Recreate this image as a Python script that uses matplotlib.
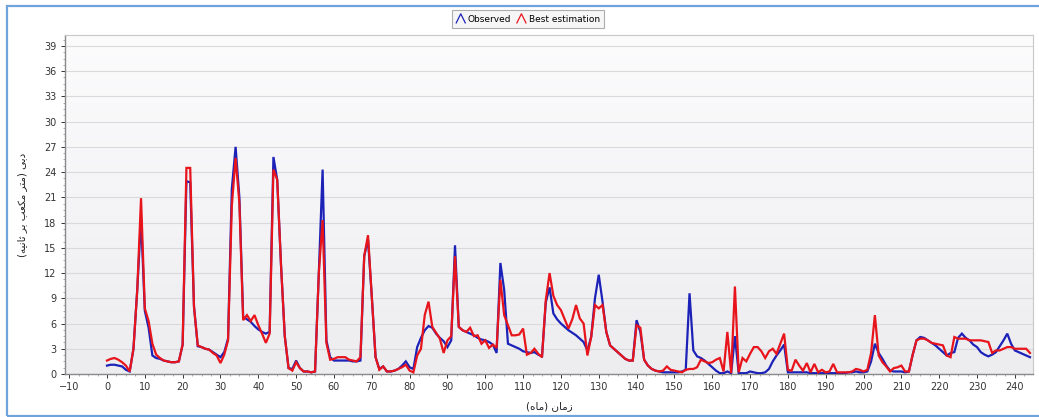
import numpy as np
import matplotlib
matplotlib.use("Agg")
import matplotlib.pyplot as plt
from matplotlib.lines import Line2D
from matplotlib.legend_handler import HandlerBase
from matplotlib.patches import Rectangle
from matplotlib.colors import LinearSegmentedColormap

# ---- data (monthly values, month 0 .. 244) ----
observed = [
    1.0, 1.1, 1.1, 1.0, 0.9, 0.5, 0.3, 3.0, 10.0, 18.5,
    7.5, 5.5, 2.2, 1.9, 1.8, 1.6, 1.5, 1.4, 1.4, 1.5,
    3.5, 22.9, 22.8, 8.0, 3.3, 3.2, 3.0, 2.9, 2.6, 2.3,
    2.0, 2.6, 4.2, 22.0, 27.0, 21.0, 6.8, 6.5, 6.2, 5.7,
    5.3, 5.0, 4.8, 5.0, 25.8, 23.1, 13.0, 4.5, 0.7, 0.6,
    1.6, 0.7, 0.3, 0.3, 0.2, 0.3, 12.0, 24.3, 4.0, 2.0,
    1.6, 1.6, 1.6, 1.6, 1.6, 1.5, 1.5, 1.6, 14.0, 16.0,
    9.2, 2.0, 0.6, 0.9, 0.3, 0.3, 0.4, 0.6, 1.0, 1.5,
    0.8, 0.6, 3.2, 4.3, 5.2, 5.7, 5.5, 4.8, 4.3, 3.9,
    3.2, 4.0, 15.3, 5.6, 5.2, 5.0, 4.8, 4.6, 4.3, 4.1,
    4.0, 3.8, 3.5, 2.5, 13.2, 10.0, 3.6, 3.4, 3.2, 3.0,
    2.7, 2.6, 2.5, 2.6, 2.3, 2.1, 8.5, 10.3, 7.2, 6.5,
    6.0, 5.6, 5.2, 4.9, 4.6, 4.2, 3.8, 2.8, 4.4, 9.0,
    11.8, 8.6, 5.0, 3.4, 3.0, 2.6, 2.2, 1.8, 1.6, 1.6,
    6.4, 5.0, 1.7, 1.0, 0.6, 0.4, 0.3, 0.2, 0.2, 0.2,
    0.2, 0.2, 0.3, 0.5, 9.6, 2.8, 2.1, 1.9, 1.6, 1.2,
    0.8, 0.4, 0.1, 0.1, 0.3, 0.1, 4.5, 0.1, 0.1, 0.1,
    0.3, 0.2, 0.1, 0.1, 0.2, 0.6, 1.5, 2.2, 2.8, 3.5,
    0.2, 0.2, 0.2, 0.2, 0.2, 0.2, 0.1, 0.1, 0.1, 0.1,
    0.1, 0.1, 0.1, 0.1, 0.1, 0.1, 0.2, 0.2, 0.3, 0.2,
    0.2, 0.3, 1.5, 3.6, 2.5, 1.8, 1.0, 0.4, 0.3, 0.3,
    0.3, 0.2, 0.3, 2.3, 4.0, 4.4, 4.3, 4.0, 3.7, 3.4,
    3.0, 2.6, 2.2, 2.5, 2.6, 4.3, 4.8, 4.3, 4.0, 3.5,
    3.2, 2.6, 2.3, 2.1, 2.3, 2.6, 3.3, 4.0, 4.8, 3.6,
    2.8, 2.6, 2.4, 2.2, 2.0,
]
best_estimation = [
    1.6, 1.8, 1.9, 1.7, 1.4, 1.0, 0.3, 3.0, 10.0, 20.9,
    7.8, 6.3, 3.6, 2.3, 1.9, 1.6, 1.5, 1.4, 1.4, 1.5,
    3.5, 24.5, 24.5, 8.0, 3.4, 3.2, 3.0, 2.9, 2.5, 2.2,
    1.3, 2.3, 4.0, 20.0, 25.7, 20.3, 6.4, 7.0, 6.3, 7.0,
    5.8, 4.8, 3.7, 4.8, 24.3, 23.1, 13.0, 4.5, 0.7, 0.4,
    1.4, 0.7, 0.3, 0.3, 0.2, 0.3, 12.0, 18.3, 3.7, 1.7,
    1.8, 2.0, 2.0, 2.0, 1.7, 1.6, 1.5, 2.0, 14.0, 16.5,
    9.2, 2.0, 0.5, 0.9, 0.3, 0.3, 0.4, 0.6, 0.8, 1.1,
    0.4, 0.2, 2.2, 3.0, 7.0, 8.6, 5.6, 4.9, 4.2, 2.5,
    4.0, 4.5, 14.0, 5.6, 5.2, 5.0, 5.5, 4.5, 4.6, 3.6,
    4.0, 3.1, 3.5, 3.1, 11.2, 7.0, 5.8, 4.6, 4.6, 4.7,
    5.4, 2.3, 2.5, 3.0, 2.4, 2.0, 8.8, 12.0, 9.3, 8.2,
    7.6, 6.5, 5.4, 6.5, 8.2, 6.6, 6.0, 2.2, 4.4, 8.2,
    7.8, 8.2, 5.0, 3.4, 3.0, 2.6, 2.2, 1.8, 1.6, 1.6,
    5.8, 5.5, 1.7, 1.0, 0.6, 0.4, 0.3, 0.4, 0.9, 0.5,
    0.4, 0.3, 0.2, 0.5, 0.6, 0.6, 0.8, 1.7, 1.5, 1.3,
    1.4, 1.7, 1.9, 0.3, 5.0, 0.1, 10.4, 0.2, 1.9, 1.5,
    2.4, 3.2, 3.2, 2.7, 1.9, 2.7, 3.0, 2.4, 3.6, 4.8,
    0.5, 0.4, 1.7, 1.0, 0.4, 1.3, 0.2, 1.2, 0.2, 0.5,
    0.2, 0.3, 1.2, 0.2, 0.2, 0.2, 0.2, 0.3, 0.6, 0.5,
    0.3, 0.5, 2.5, 7.0, 2.2, 1.4, 0.9, 0.3, 0.7, 0.8,
    1.0, 0.3, 0.3, 2.3, 4.0, 4.2, 4.2, 4.0, 3.7, 3.6,
    3.5, 3.4, 2.2, 2.0, 4.4, 4.2, 4.2, 4.2, 4.0, 4.0,
    4.0, 4.0, 3.9, 3.8, 2.5, 2.8, 2.8, 3.0, 3.2, 3.2,
    3.0, 3.0, 3.0, 3.0, 2.5,
]
months = list(range(len(observed)))
x_ticks = list(range(-10, 241, 10))
y_ticks = list(range(0, 40, 3))
series_names = ["Observed", "Best estimation"]

# Persian labels (pre-shaped presentation forms, logical order)
ylabel_logical = "\uFEA9\uFE91\uFEF0 (\uFEE3\uFE98\uFEAE \uFEE3\uFEDC\uFECC\uFE90 \uFE91\uFEAE \uFE9B\uFE8E\uFEE7\uFEF4\uFEEA)"
xlabel_logical = "\uFEAF\uFEE3\uFE8E\uFEE5 (\uFEE3\uFE8E\uFEE9)"


def visual(s):
    return s[::-1].translate(str.maketrans("()", ")("))


BLUE = "#1c22b8"
RED = "#e8141c"

fig = plt.figure(figsize=(10.39, 4.17), dpi=100)
fig.patch.set_facecolor("white")
ax = fig.add_axes([65 / 1039, 1 - 374 / 417, (1033 - 65) / 1039, (374 - 35) / 417])

# background gradient of plot area
cmap = LinearSegmentedColormap.from_list("bg", ["#ededf0", "#fcfcfd"])
grad = np.linspace(0, 1, 256).reshape(-1, 1)
ax.imshow(grad, cmap=cmap, aspect="auto", extent=[0, 1, 0, 1],
          transform=ax.transAxes, origin="lower", zorder=0)

ax.plot(months, observed, color=BLUE, lw=1.6, zorder=3, solid_joinstyle="miter")
ax.plot(months, best_estimation, color=RED, lw=1.6, zorder=4, solid_joinstyle="miter")

ax.set_xlim(-11.1, 244.8)
ax.set_ylim(0, 40.3)
ax.set_xticks(x_ticks)
ax.set_yticks(y_ticks)
ax.set_xticks(np.arange(-10, 245, 2.5), minor=True)
ax.set_yticks(np.arange(0, 40.3, 0.75), minor=True)
ax.grid(axis="y", color="#dadadd", lw=0.8, zorder=1)
ax.set_axisbelow(True)
ax.tick_params(axis="both", which="major", labelsize=7, colors="#333333",
               length=3, width=0.7, direction="out", pad=3)
ax.tick_params(axis="both", which="minor", length=1.5, width=0.5, color="#888888")
for s in ["left", "bottom"]:
    ax.spines[s].set_color("#8a8a8a")
    ax.spines[s].set_linewidth(1.0)
for s in ["top", "right"]:
    ax.spines[s].set_color("#c8c8c8")
    ax.spines[s].set_linewidth(0.8)

ax.set_ylabel(visual(ylabel_logical), family=["DejaVu Sans"], fontsize=7.5,
              labelpad=12, color="#222222")
ax.set_xlabel(visual(xlabel_logical), family=["DejaVu Sans"], fontsize=7.5,
              labelpad=6, color="#222222")


class CaretHandler(HandlerBase):
    def create_artists(self, legend, orig_handle, xdescent, ydescent,
                       width, height, fontsize, trans):
        x0 = -xdescent
        y0 = -ydescent
        xs = [x0, x0 + width / 2, x0 + width]
        ys = [y0 - 1, y0 + height + 1, y0 - 1]
        ln = Line2D(xs, ys, color=orig_handle.get_color(), lw=0.9, transform=trans)
        return [ln]


handles = [Line2D([], [], color=BLUE), Line2D([], [], color=RED)]
leg = fig.legend(handles, series_names, loc="center", bbox_to_anchor=(528 / 1039, 1 - 19 / 417),
                 ncol=2, fontsize=6.5, frameon=True, fancybox=False, shadow=False,
                 handlelength=1.0, handletextpad=0.3, columnspacing=0.6,
                 borderpad=0.45, handler_map={Line2D: CaretHandler()})
leg.get_frame().set_edgecolor("#9a9a9a")
leg.get_frame().set_linewidth(0.8)
leg.get_frame().set_facecolor("#f4f4f4")

# blue outer frame
fig.add_artist(Rectangle((7 / 1039, 1 / 417), 1.05, (415 - 5) / 417,
                         transform=fig.transFigure, fill=False,
                         edgecolor="#6fa3dc", lw=1.6, clip_on=False))

fig.savefig("out.png", dpi=100)
